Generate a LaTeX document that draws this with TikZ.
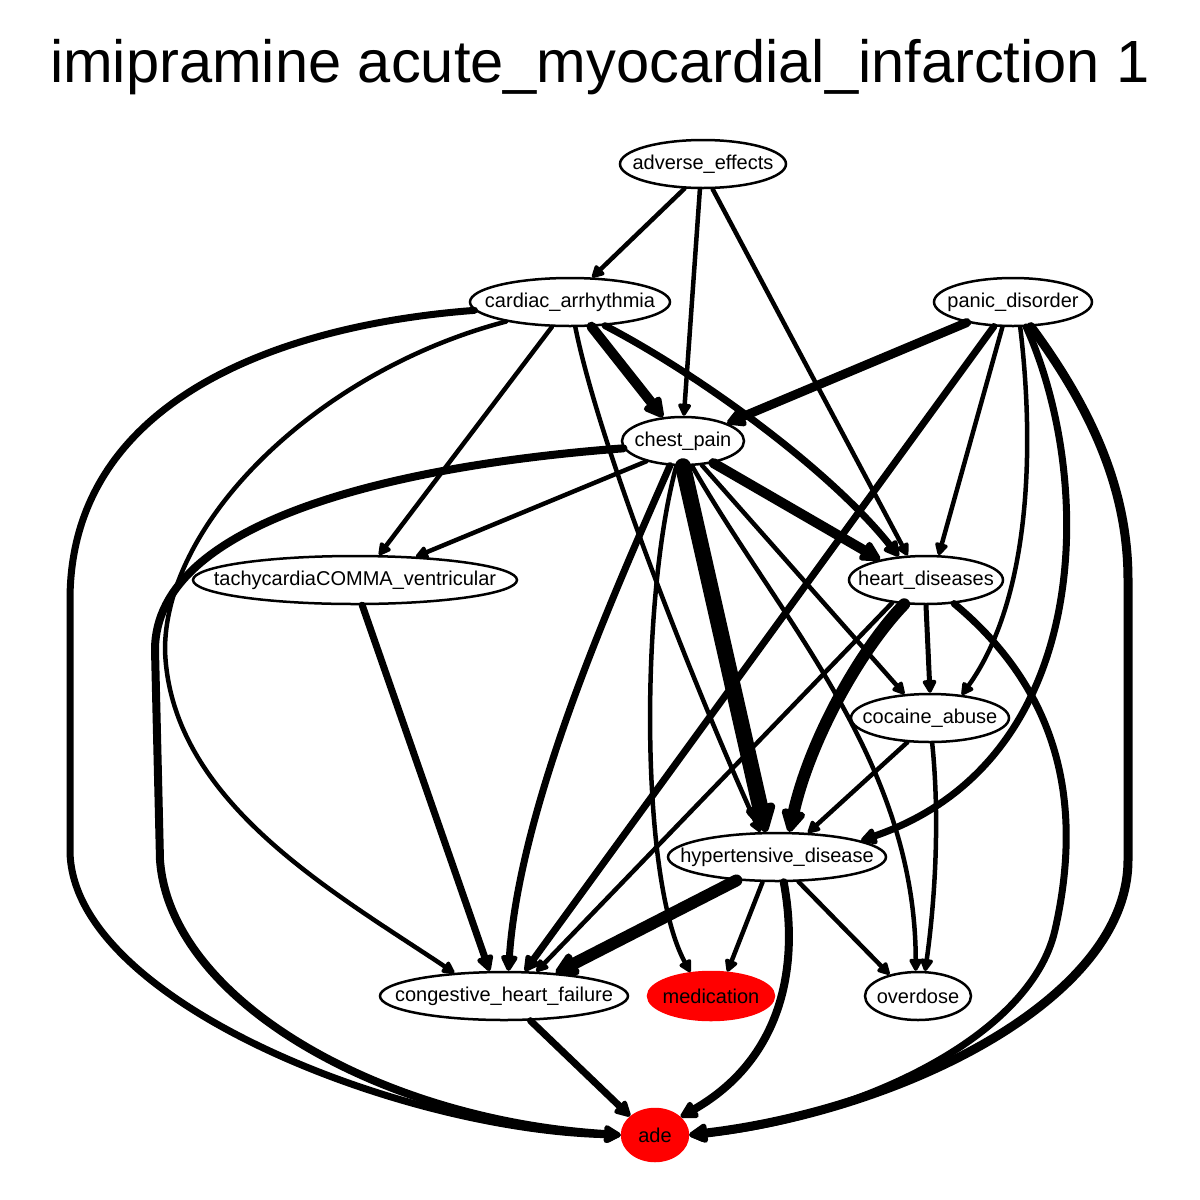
\documentclass[tikz,border=0pt]{standalone}
\usepackage{fontspec}
\setmainfont{Liberation Sans}
\usetikzlibrary{arrows.meta,shapes.geometric}
\begin{document}
\begin{tikzpicture}[x=1pt,y=-1pt,
  nd/.style={ellipse,draw,line width=2.5pt,inner sep=0pt,minimum height=48pt,font=\fontsize{20}{24}\selectfont},
  redn/.style={nd,fill=red,draw=red},
  ed/.style={line width=#1pt,line cap=round,-{Triangle[length=7pt 1.6,width=7pt 1.6,round]}},
  ed/.default=4.5
]
\useasboundingbox (0,0) rectangle (1200,1200);
\node[font=\fontsize{59.6}{70}\selectfont,anchor=base] (title) at (600,82) {imipramine acute\_myocardial\_infarction 1};

\node[nd,minimum width=166pt] (ae) at (703,164) {\makebox[0pt]{adverse\_effects}};
\node[nd,minimum width=200pt] (ca) at (570,302) {\makebox[0pt]{cardiac\_arrhythmia}};
\node[nd,minimum width=158pt] (pd) at (1013,302) {\makebox[0pt]{panic\_disorder}};
\node[nd,minimum width=122pt] (cp) at (683,441) {\makebox[0pt]{chest\_pain}};
\node[nd,minimum width=324pt] (tach) at (355,580) {\makebox[0pt]{tachycardiaCOMMA\_ventricular}};
\node[nd,minimum width=154pt] (hd) at (926,580) {\makebox[0pt]{heart\_diseases}};
\node[nd,minimum width=158pt] (coc) at (930,718) {\makebox[0pt]{cocaine\_abuse}};
\node[nd,minimum width=218pt] (hyp) at (777,857) {\makebox[0pt]{hypertensive\_disease}};
\node[nd,minimum width=248pt] (chf) at (504,996) {\makebox[0pt]{congestive\_heart\_failure}};
\node[redn,minimum width=126pt] (med) at (711,996) {\makebox[0pt]{medication}};
\node[nd,minimum width=106pt] (od) at (918,996) {\makebox[0pt]{overdose}};
\node[redn,minimum width=66pt,minimum height=52pt] (ade) at (655,1135) {\makebox[0pt]{ade}};

% adverse_effects
\draw[ed] (ae.233) -- (ca.48);
\draw[ed] (ae.263) -- (cp.88);
\draw[ed] (ae.291) -- (hd.127);
% cardiac_arrhythmia
\draw[ed=10] (ca.311) -- (cp.130);
\draw[ed=7] (ca.326) .. controls (700,375) and (830,470) .. (hd.139);
\draw[ed] (ca.234) -- (tach.46);
\draw[ed] (ca.282) .. controls (600,450) and (700,700) .. (hyp.124);
\draw[ed] (ca.197) .. controls (320,370) and (165,520) .. (165,650) .. controls (170,800) and (330,890) .. (chf.155);
\draw[ed=7] (ca.185) .. controls (280,325) and (70,400) .. (70,600) -- (70,850) .. controls (70,1000) and (400,1130) .. (ade.180);
% panic_disorder
\draw[ed=9] (pd.204) -- (cp.22);
\draw[ed] (pd.247) -- (hd.63);
\draw[ed=7] (pd.232) -- (chf.50);
\draw[ed] (pd.286) .. controls (1035,450) and (1030,600) .. (coc.36);
\draw[ed=7] (pd.298) .. controls (1095,480) and (1095,760) .. (hyp.11);
\draw[ed=9] (pd.306) .. controls (1100,420) and (1128,500) .. (1128,580) -- (1128,860) .. controls (1128,1000) and (900,1110) .. (ade.0);
% chest_pain
\draw[ed] (cp.209) -- (tach.21);
\draw[ed=10] (cp.324) -- (hd.156);
\draw[ed] (cp.308) -- (coc.137);
\draw[ed=16] (cp.270) -- (hyp.114);
\draw[ed=7] (cp.242) .. controls (620,580) and (520,800) .. (chf.80);
\draw[ed] (cp.255) .. controls (640,600) and (640,880) .. (med.131);
\draw[ed] (cp.290) .. controls (780,620) and (915,760) .. (od.95);
\draw[ed=8] (cp.187) .. controls (400,465) and (155,520) .. (155,650) -- (160,860) .. controls (170,1000) and (380,1120) .. (ade.180);
% heart_diseases
\draw[ed=5] (hd.270) -- (coc.90);
\draw[ed=12] (hd.228) .. controls (860,650) and (810,740) .. (hyp.64);
\draw[ed] (hd.214) -- (chf.37);
\draw[ed=7] (hd.320) .. controls (1070,700) and (1080,820) .. (1055,930) .. controls (1030,1040) and (850,1120) .. (ade.0);
% cocaine_abuse
\draw[ed] (coc.227) -- (hyp.38);
\draw[ed] (coc.275) .. controls (940,820) and (935,900) .. (od.74);
% tachycardia
\draw[ed=7] (tach.286) -- (chf.120);
% hypertensive
\draw[ed=12] (hyp.210) -- (chf.24);
\draw[ed] (hyp.240) -- (med.56);
\draw[ed] (hyp.311) -- (od.143);
\draw[ed=8] (hyp.285) .. controls (800,970) and (780,1060) .. (ade.35);
% chf
\draw[ed=7] (chf.317) -- (ade.143);
\end{tikzpicture}
\end{document}
